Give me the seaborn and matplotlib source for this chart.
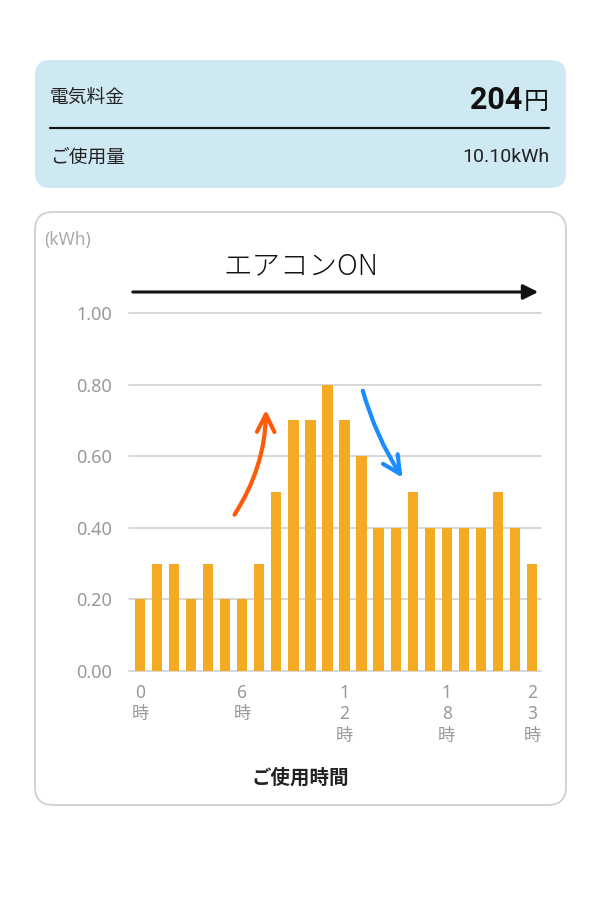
import matplotlib
matplotlib.use("Agg")
import matplotlib.pyplot as plt
from matplotlib.patches import FancyBboxPatch, FancyArrowPatch
import seaborn as sns
import pandas as pd

hours = list(range(24))
usage = [0.2, 0.3, 0.3, 0.2, 0.3, 0.2, 0.2, 0.3, 0.5, 0.7, 0.7, 0.8,
         0.7, 0.6, 0.4, 0.4, 0.5, 0.4, 0.4, 0.4, 0.4, 0.5, 0.4, 0.3]
tick_pos = [0, 6, 12, 18, 23]
tick_labels = ["0\n時", "6\n時", "1\n2\n時", "1\n8\n時", "2\n3\n時"]
y_ticks = [0.0, 0.2, 0.4, 0.6, 0.8, 1.0]

sns.set_theme(style="white")
plt.rcParams['font.family'] = ['Roboto', 'Noto Sans CJK JP', 'DejaVu Sans']

W, H = 600, 900
fig = plt.figure(figsize=(6, 9), dpi=100)
fig.patch.set_facecolor("white")

def fx(px):
    return px / W

def fy(py):
    return 1 - py / H

# top summary card
card1 = FancyBboxPatch((fx(35), fy(188)), fx(531), (188 - 60) / H,
                       boxstyle="round,pad=0,rounding_size=0.025",
                       transform=fig.transFigure, facecolor="#cfe9f3",
                       edgecolor="none", mutation_aspect=W / H, zorder=-2)
fig.patches.append(card1)
fig.text(fx(50), fy(97), "電気料金", fontsize=13.5, color="#222", va="center", ha="left",
         family=['Noto Sans CJK JP'])
fig.text(fx(522), fy(109), "204", fontsize=22, fontweight="bold", color="#111",
         va="baseline", ha="right", family=['Roboto'])
fig.text(fx(549), fy(109), "円", fontsize=18, color="#111",
         va="baseline", ha="right", family=['Noto Sans CJK JP'])
fig.lines.append(plt.Line2D([fx(50), fx(549)], [fy(128), fy(128)],
                            transform=fig.transFigure, color="#111", lw=1.6))
fig.text(fx(50), fy(157), "ご使用量", fontsize=13.5, color="#222", va="center", ha="left",
         family=['Noto Sans CJK JP'])
fig.text(fx(549), fy(157), "10.10kWh", fontsize=14, color="#222", va="center", ha="right",
         family=['Roboto'])

# chart card
card2 = FancyBboxPatch((fx(35), fy(805)), fx(531), (805 - 212) / H,
                       boxstyle="round,pad=0,rounding_size=0.03",
                       transform=fig.transFigure, facecolor="white",
                       edgecolor="#d0d0d0", linewidth=1.3, mutation_aspect=W / H, zorder=-2)
fig.patches.append(card2)

ax = fig.add_axes([fx(131.5), fy(671), (540.5 - 131.5) / W, (671 - 313) / H])
ax.set_facecolor("none")
ax.set_zorder(1)
df = pd.DataFrame({"hour": hours, "kwh": usage})
sns.barplot(data=df, x="hour", y="kwh", color="#f4aa22", width=0.6,
            saturation=1, ax=ax, linewidth=0, edgecolor="none")
for p in ax.patches:
    p.set_zorder(3)
ax.set_xlim(-0.5, 23.5)
ax.set_ylim(0, 1.0)
ax.set_yticks(y_ticks)
ax.set_yticklabels([f"{v:.2f}" for v in y_ticks], fontsize=13, color="#999999",
                   family=['Noto Sans'])
ax.set_xticks(tick_pos)
ax.set_xticklabels(tick_labels, fontsize=12.5, color="#999999", linespacing=1.25,
                   family=['Noto Sans', 'Noto Sans CJK JP'])
ax.tick_params(axis="both", length=0)
ax.tick_params(axis="y", pad=14)
ax.tick_params(axis="x", pad=9)
for v in y_ticks:
    ax.axhline(v, xmin=-0.006, xmax=1.0, color="#d4d4d4", lw=1.3, zorder=1, clip_on=False)
for s in ax.spines.values():
    s.set_visible(False)
ax.set_xlabel("")
ax.set_ylabel("")

fig.text(fx(300), fy(778), "ご使用時間", fontsize=14, fontweight="bold", color="#222",
         va="center", ha="center", family=['Noto Sans CJK JP'])
fig.text(fx(44), fy(240), "(kWh)", fontsize=12.5, color="#aaaaaa", va="center", ha="left",
         family=['Noto Sans'])
fig.text(fx(301), fy(266), "エアコンON", fontsize=20.5, color="#111", va="center",
         ha="center", fontweight="light", family=['Noto Sans CJK JP'])

# arrows
a1 = FancyArrowPatch((fx(130), fy(292)), (fx(541), fy(292)), transform=fig.transFigure,
                     arrowstyle="-|>,head_length=6,head_width=3", color="#111", lw=2.2,
                     mutation_scale=1.5, zorder=5)
fig.patches.append(a1)
a2 = FancyArrowPatch((fx(233), fy(517)), (fx(266), fy(407)), transform=fig.transFigure,
                     connectionstyle="arc3,rad=0.15",
                     arrowstyle="->,head_length=9,head_width=4.5", color="#ff5a0a", lw=3,
                     mutation_scale=1.4, zorder=5)
fig.patches.append(a2)
a3 = FancyArrowPatch((fx(362), fy(388)), (fx(404), fy(480)), transform=fig.transFigure,
                     connectionstyle="arc3,rad=0.08",
                     arrowstyle="->,head_length=9,head_width=4.5", color="#1a8cff", lw=3,
                     mutation_scale=1.4, zorder=5)
fig.patches.append(a3)

fig.savefig("out.png", dpi=100, facecolor="white")
